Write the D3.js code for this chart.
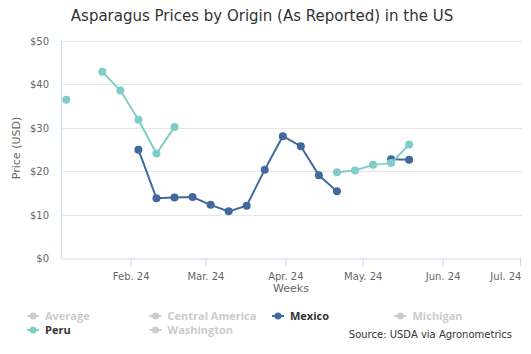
<!DOCTYPE html>
<html>
<head>
<meta charset="utf-8">
<script src="https://cdn.jsdelivr.net/npm/d3@7"></script>
<style>
  body { margin: 0; background: #fff; }
  svg { display: block; font-family: "DejaVu Sans", sans-serif; }
</style>
</head>
<body>
<div class="chart"></div>
<script>
// weekly dates (Sundays) and prices in USD, null = no report
const weeks = ["2024-01-07", "2024-01-14", "2024-01-21", "2024-01-28", "2024-02-04",
  "2024-02-11", "2024-02-18", "2024-02-25", "2024-03-03", "2024-03-10",
  "2024-03-17", "2024-03-24", "2024-03-31", "2024-04-07", "2024-04-14",
  "2024-04-21", "2024-04-28", "2024-05-05", "2024-05-12", "2024-05-19"];
const mexico = [null, null, null, null, 25.0, 13.8, 14.0, 14.1, 12.3, 10.8,
  12.1, 20.4, 28.1, 25.8, 19.1, 15.4, null, null, 22.8, 22.7];
const peru = [36.5, null, 42.9, 38.6, 31.9, 24.1, 30.2, null, null, null,
  null, null, null, null, null, 19.8, 20.2, 21.5, 21.9, 26.2];
const legendItems = ["Average", "Central America", "Mexico", "Michigan", "Peru", "Washington"];
const visible = { Mexico: "#41699d", Peru: "#7fcdc8" };
const monthTicks = ["2024-02-01", "2024-03-01", "2024-04-01", "2024-05-01", "2024-06-01", "2024-07-01"];
const yTicks = [0, 10, 20, 30, 40, 50];

const W = 531, H = 354;
const svg = d3.select(".chart").append("svg")
  .attr("width", W).attr("height", H);

const parse = d3.utcParse("%Y-%m-%d");
const x = d3.scaleUtc()
  .domain([new Date(Date.UTC(2024, 0, 5, 6)), new Date(Date.UTC(2024, 6, 1, 14))])
  .range([61.7, 521.5]);
const y = d3.scaleLinear().domain([0, 50]).range([258.3, 41]);

// title
svg.append("text")
  .attr("x", 262).attr("y", 21)
  .attr("text-anchor", "middle")
  .style("font-size", "15px").style("fill", "#333")
  .text("Asparagus Prices by Origin (As Reported) in the US");

// grid
svg.append("g").selectAll("line")
  .data(yTicks.filter(d => d > 0))
  .join("line")
  .attr("x1", 61.7).attr("x2", 521.5)
  .attr("y1", d => Math.round(y(d)) + 0.5).attr("y2", d => Math.round(y(d)) + 0.5)
  .attr("stroke", "#e6e6e6");

// y axis
svg.append("line")
  .attr("x1", 61.5).attr("x2", 61.5).attr("y1", 41).attr("y2", 258.5)
  .attr("stroke", "#ccd6eb");
svg.append("g").selectAll("text")
  .data(yTicks)
  .join("text")
  .attr("x", 49).attr("y", d => y(d) + 4)
  .attr("text-anchor", "end")
  .style("font-size", "10px").style("fill", "#666")
  .text(d => "$" + d);
svg.append("text")
  .attr("transform", "translate(20,148) rotate(-90)")
  .attr("text-anchor", "middle")
  .style("font-size", "11px").style("fill", "#666")
  .text("Price (USD)");

// x axis
const xAxis = d3.axisBottom(x)
  .tickValues(monthTicks.map(parse))
  .tickFormat(d3.utcFormat("%b. %y"))
  .tickSize(8).tickPadding(6);
const gx = svg.append("g")
  .attr("transform", "translate(0,258.5)")
  .call(xAxis);
gx.select(".domain").attr("stroke", "#ccd6eb").attr("d", "M61.7,0.5H521.5");
gx.selectAll(".tick line").attr("stroke", "#ccd6eb");
gx.selectAll(".tick text").style("font-size", "10px").style("fill", "#666")
  .style("font-family", "DejaVu Sans, sans-serif");
// last label is pushed inside the chart, like the original
gx.selectAll(".tick text").filter((d, i, n) => i === n.length - 1)
  .attr("text-anchor", "end").attr("x", 1);
svg.append("text")
  .attr("x", 291).attr("y", 292)
  .attr("text-anchor", "middle")
  .style("font-size", "11px").style("fill", "#666")
  .text("Weeks");

// series
const series = [
  { name: "Mexico", values: mexico },
  { name: "Peru", values: peru }
];
const line = d3.line()
  .defined(d => d.v != null)
  .x(d => x(d.date)).y(d => y(d.v));

series.forEach(s => {
  const pts = weeks.map((w, i) => ({ date: parse(w), v: s.values[i] }));
  const g = svg.append("g");
  g.append("path")
    .datum(pts)
    .attr("d", line)
    .attr("fill", "none")
    .attr("stroke", visible[s.name])
    .attr("stroke-width", 2);
  g.selectAll("circle")
    .data(pts.filter(d => d.v != null))
    .join("circle")
    .attr("cx", d => x(d.date)).attr("cy", d => y(d.v))
    .attr("r", 4)
    .attr("fill", visible[s.name]);
});

// legend
const legend = svg.append("g").selectAll("g")
  .data(legendItems)
  .join("g")
  .attr("transform", (d, i) => `translate(${27 + (i % 4) * 122.5},${316 + Math.floor(i / 4) * 14})`);
legend.append("line")
  .attr("x1", 0).attr("x2", 12).attr("y1", 0).attr("y2", 0)
  .attr("stroke", d => visible[d] || "#ccc").attr("stroke-width", 2);
legend.append("circle")
  .attr("cx", 6).attr("cy", 0).attr("r", 3.5)
  .attr("fill", d => visible[d] || "#ccc");
legend.append("text")
  .attr("x", 18).attr("y", 4)
  .style("font-family", "'Open Sans', sans-serif")
  .style("font-size", "11px").style("font-weight", "bold")
  .style("fill", d => visible[d] ? "#333" : "#ccc")
  .text(d => d);

// source
svg.append("text")
  .attr("x", 512).attr("y", 338)
  .attr("text-anchor", "end")
  .style("font-size", "10px").style("fill", "#333")
  .text("Source: USDA via Agronometrics");
</script>
</body>
</html>
